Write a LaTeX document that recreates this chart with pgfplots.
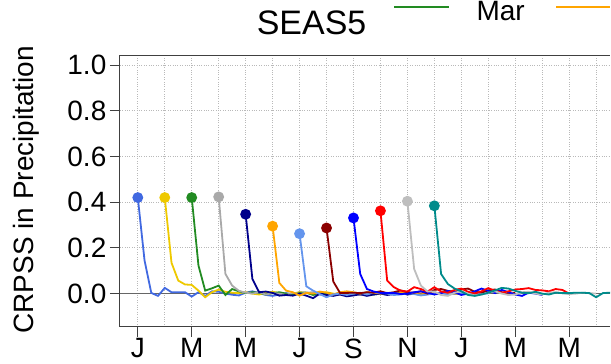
\documentclass[border=0pt]{standalone}
\usepackage{fontspec}
\setmainfont{Liberation Sans}
\usepackage{pgfplots}
\pgfplotsset{compat=1.18}

% colours of the twelve initialisation months
\definecolor{cJan}{RGB}{65,105,225}
\definecolor{cFeb}{RGB}{238,201,0}
\definecolor{cMar}{RGB}{34,139,34}
\definecolor{cApr}{RGB}{169,169,169}
\definecolor{cMay}{RGB}{0,0,139}
\definecolor{cJun}{RGB}{255,165,0}
\definecolor{cJul}{RGB}{100,149,237}
\definecolor{cAug}{RGB}{139,0,0}
\definecolor{cSep}{RGB}{0,0,255}
\definecolor{cOct}{RGB}{255,0,0}
\definecolor{cNov}{RGB}{190,190,190}
\definecolor{cDec}{RGB}{0,139,139}

\newcommand{\bigfont}{\fontsize{28}{32}\selectfont}

\begin{document}
\begin{tikzpicture}[x=1pt,y=1pt]
% page frame
\path (0,0) rectangle (611,364);

\begin{axis}[
  at={(120pt,37pt)}, anchor=south west, scale only axis,
  width=491pt, height=272pt,
  xmin=-0.667, xmax=17.519, ymin=-0.144, ymax=1.044,
  axis x line*=box, axis y line*=left,
  axis line style={black!75, line width=0.8pt, -},
  xtick={0,2,...,16}, xticklabels={J,M,M,J,S,N,J,M,M},
  minor xtick={1,3,...,17},
  ytick={0,0.2,0.4,0.6,0.8,1.0},
  yticklabels={0.0,0.2,0.4,0.6,0.8,1.0},
  xtick pos=lower, ytick pos=left,
  tick align=outside,
  major tick length=10pt, minor tick length=0pt,
  tick style={black!75, line width=0.8pt},
  ticklabel style={font=\bigfont},
  xticklabel style={inner sep=0pt, yshift=-2pt},
  grid=both,
  major grid style={dotted, gray!55, line width=0.8pt},
  minor grid style={dotted, gray!55, line width=0.8pt},
  every axis plot/.append style={line width=1.8pt, mark size=4.5pt, mark indices={1}, mark=*},
]
% reference line at zero skill
\addplot[black!60, line width=1.2pt, mark=none] coordinates {(-0.667,0) (17.519,0)};

% Jan
\addplot[cJan] coordinates {(0,0.42) (0.25,0.145) (0.5,0.003) (0.75,-0.010) (1,0.025) (1.25,0.006) (1.5,0.006) (1.75,0.006) (2,-0.013) (2.25,0.006) (2.5,-0.010) (2.75,0.010) (3,0.008) (3.25,0.000) (3.5,-0.005) (3.75,-0.008) (4,0.004) (4.25,0.010) (4.5,0.002) (4.75,-0.006) (5,-0.010) (5.25,-0.004) (5.5,0.002) (5.75,-0.004) (6,0.006) (6.25,0.004) (6.5,0.000) (6.75,-0.004) (7,0.002)};
% Feb
\addplot[cFeb] coordinates {(1,0.42) (1.25,0.135) (1.5,0.057) (1.75,0.040) (2,0.038) (2.25,0.013) (2.5,-0.016) (2.75,0.006) (3,0.018) (3.25,0.008) (3.5,0.004) (3.75,0.002) (4,0.006) (4.25,0.000) (4.5,-0.004) (4.75,0.004) (5,0.008) (5.25,0.002) (5.5,-0.006) (5.75,0.000) (6,0.006) (6.25,0.004) (6.5,-0.002) (6.75,0.002) (7,0.006) (7.25,0.000) (7.5,-0.004) (7.75,0.003) (8,0.000)};
% Mar
\addplot[cMar] coordinates {(2,0.42) (2.25,0.123) (2.5,0.013) (2.75,0.023) (3,0.035) (3.25,-0.006) (3.5,0.020) (3.75,0.010) (4,0.002) (4.25,0.006) (4.5,0.004) (4.75,-0.004) (5,0.002) (5.25,0.006) (5.5,0.000) (5.75,-0.003) (6,0.002) (6.25,0.004) (6.5,-0.006) (6.75,0.000) (7,0.003) (7.25,-0.004) (7.5,0.002) (7.75,0.004) (8,-0.002) (8.25,0.000) (8.5,0.004) (8.75,-0.004) (9,0.000)};
% Apr
\addplot[cApr] coordinates {(3,0.423) (3.25,0.086) (3.5,0.035) (3.75,0.012) (4,0.004) (4.25,0.000) (4.5,0.006) (4.75,-0.004) (5,0.002) (5.25,0.000) (5.5,-0.006) (5.75,0.004) (6,-0.002) (6.25,0.004) (6.5,0.006) (6.75,-0.004) (7,-0.010) (7.25,-0.004) (7.5,0.002) (7.75,0.006) (8,0.000) (8.25,-0.006) (8.5,-0.002) (8.75,0.004) (9,0.000) (9.25,-0.004) (9.5,0.002) (9.75,0.000) (10,-0.003)};
% May
\addplot[cMay] coordinates {(4,0.347) (4.25,0.064) (4.5,0.006) (4.75,0.009) (5,0.003) (5.25,-0.009) (5.5,-0.006) (5.75,-0.009) (6,0.000) (6.25,-0.009) (6.5,-0.020) (6.75,0.000) (7,-0.006) (7.25,-0.010) (7.5,-0.004) (7.75,-0.012) (8,-0.008) (8.25,-0.003) (8.5,-0.010) (8.75,-0.004) (9,0.000) (9.25,-0.006) (9.5,-0.002) (9.75,0.004) (10,-0.004) (10.25,0.000) (10.5,-0.006) (10.75,-0.002) (11,0.000)};
% Jun
\addplot[cJun] coordinates {(5,0.295) (5.25,0.047) (5.5,0.013) (5.75,0.006) (6,-0.009) (6.25,0.003) (6.5,0.000) (6.75,0.009) (7,0.004) (7.25,-0.004) (7.5,0.006) (7.75,0.010) (8,0.006) (8.25,0.000) (8.5,0.006) (8.75,0.004) (9,0.000) (9.25,0.004) (9.5,-0.002) (9.75,0.003) (10,0.006) (10.25,0.000) (10.5,-0.004) (10.75,0.003) (11,0.000) (11.25,0.002) (11.5,0.004) (11.75,-0.002) (12,0.000)};
% Jul
\addplot[cJul] coordinates {(6,0.262) (6.25,0.032) (6.5,0.013) (6.75,-0.002) (7,-0.016) (7.25,-0.004) (7.5,0.000) (7.75,-0.006) (8,0.000) (8.25,0.004) (8.5,-0.004) (8.75,0.006) (9,0.004) (9.25,0.000) (9.5,-0.006) (9.75,-0.004) (10,0.002) (10.25,-0.002) (10.5,-0.008) (10.75,-0.004) (11,0.000) (11.25,0.002) (11.5,-0.004) (11.75,0.000) (12,0.002) (12.25,-0.002) (12.5,-0.004) (12.75,0.002) (13,0.000)};
% Aug
\addplot[cAug] coordinates {(7,0.287) (7.25,0.053) (7.5,0.003) (7.75,0.003) (8,0.004) (8.25,0.002) (8.5,0.006) (8.75,0.004) (9,0.010) (9.25,0.002) (9.5,0.006) (9.75,0.014) (10,0.006) (10.25,0.004) (10.5,0.010) (10.75,0.000) (11,0.016) (11.25,0.020) (11.5,0.012) (11.75,0.006) (12,0.018) (12.25,0.022) (12.5,0.008) (12.75,0.004) (13,0.014) (13.25,0.018) (13.5,0.006) (13.75,-0.004) (14,0.004)};
% Sep
\addplot[cSep] coordinates {(8,0.331) (8.25,0.086) (8.5,0.020) (8.75,0.009) (9,0.003) (9.25,0.003) (9.5,0.003) (9.75,-0.002) (10,0.000) (10.25,0.006) (10.5,0.010) (10.75,0.004) (11,-0.004) (11.25,0.002) (11.5,0.012) (11.75,0.006) (12,-0.006) (12.25,0.000) (12.5,0.010) (12.75,0.022) (13,0.012) (13.25,0.002) (13.5,0.016) (13.75,0.006) (14,-0.004) (14.25,-0.010) (14.5,0.004) (14.75,0.000) (15,-0.006)};
% Oct
\addplot[cOct] coordinates {(9,0.362) (9.25,0.057) (9.5,0.028) (9.75,0.013) (10,0.009) (10.25,0.028) (10.5,0.020) (10.75,0.009) (11,0.028) (11.25,0.009) (11.5,0.004) (11.75,0.016) (12,0.022) (12.25,0.008) (12.5,0.000) (12.75,0.010) (13,0.024) (13.25,0.012) (13.5,0.004) (13.75,0.010) (14,0.018) (14.25,0.020) (14.5,0.024) (14.75,0.016) (15,0.014) (15.25,0.010) (15.5,0.020) (15.75,0.016) (16,0.000)};
% Nov
\addplot[cNov] coordinates {(10,0.404) (10.25,0.108) (10.5,0.035) (10.75,0.009) (11,0.009) (11.25,-0.006) (11.5,-0.010) (11.75,0.004) (12,0.010) (12.25,0.000) (12.5,-0.008) (12.75,-0.004) (13,0.004) (13.25,0.010) (13.5,0.000) (13.75,-0.006) (14,-0.004) (14.25,0.006) (14.5,0.008) (14.75,0.000) (15,-0.004) (15.25,0.004) (15.5,0.006) (15.75,0.002) (16,-0.002) (16.25,0.000) (16.5,0.004) (16.75,0.002) (17,0.000)};
% Dec
\addplot[cDec] coordinates {(11,0.384) (11.25,0.086) (11.5,0.042) (11.75,0.022) (12,0.010) (12.25,-0.006) (12.5,-0.010) (12.75,-0.004) (13,0.004) (13.25,0.014) (13.5,0.025) (13.75,0.022) (14,0.012) (14.25,0.004) (14.5,0.002) (14.75,0.008) (15,0.000) (15.25,-0.004) (15.5,0.004) (15.75,0.002) (16,0.002) (16.25,0.004) (16.5,0.004) (16.75,0.002) (17,-0.016) (17.25,0.002) (17.5,0.004) (17.75,0.006) (18,0.004)};
\end{axis}

% title
\node[anchor=base, inner sep=0pt, font=\fontsize{34}{38}\selectfont] at (312,329) {SEAS5};
% axis title
\node[rotate=90, anchor=base, inner sep=0pt, font=\bigfont] at (34,174) {CRPSS in Precipitation};
% bottom row of the month legend
\draw[cMar, line width=1.8pt] (395,357) -- (450,357);
\node[anchor=base west, inner sep=0pt, font=\bigfont] at (477,343) {Mar};
\draw[cJun, line width=1.8pt] (557,357) -- (611,357);
\end{tikzpicture}
\end{document}
